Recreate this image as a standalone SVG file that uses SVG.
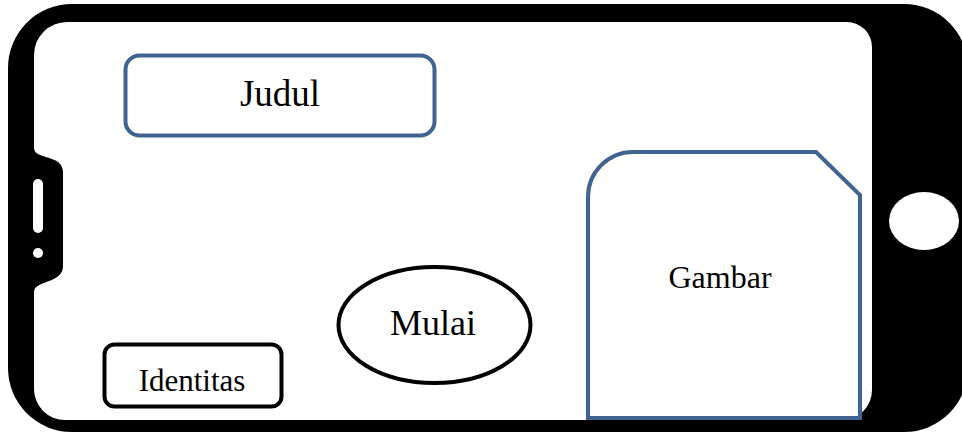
<svg xmlns="http://www.w3.org/2000/svg" width="962" height="437" viewBox="0 0 962 437">
<style>
.lbl{font-family:"Liberation Serif","Times New Roman",serif;fill:#000;text-anchor:middle}
.blue{fill:#fff;stroke:#41638F;stroke-width:4}
.blk{fill:#fff;stroke:#000;stroke-width:4}
</style>
<g id="phone">
<rect x="8" y="4" width="960" height="428" rx="64" fill="#000"/>
<path d="M67,22 H847 A25,25 0 0 1 872,47 V390 A30,30 0 0 1 842,420 H65 A31,31 0 0 1 34,389 V292 C34,280 63,284 63,266 V172 C63,154 34,160 34,148 V55 A33,33 0 0 1 67,22 Z" fill="#fff"/>
<rect x="33" y="179" width="10" height="54" rx="5" fill="#fff"/>
<circle cx="38" cy="253" r="5" fill="#fff"/>
<ellipse cx="924" cy="221" rx="35" ry="29" fill="#fff"/>
</g>
<g id="connectors"></g>
<g id="judul">
<rect class="blue" x="125.5" y="55.5" width="309" height="80" rx="14"/>
<text class="lbl" x="280" y="106" font-size="37">Judul</text>
</g>
<g id="gambar">
<path class="blue" d="M588,418 V197 A45,45 0 0 1 633,152 H816 L860,195 V418 Z"/>
<text class="lbl" x="720" y="288" font-size="32">Gambar</text>
</g>
<g id="mulai">
<ellipse class="blk" cx="434.5" cy="325" rx="96" ry="58"/>
<text class="lbl" x="433" y="335" font-size="36">Mulai</text>
</g>
<g id="identitas">
<rect class="blk" x="104.5" y="344.5" width="177" height="62" rx="10"/>
<text class="lbl" x="192" y="391" font-size="31">Identitas</text>
</g>
</svg>
